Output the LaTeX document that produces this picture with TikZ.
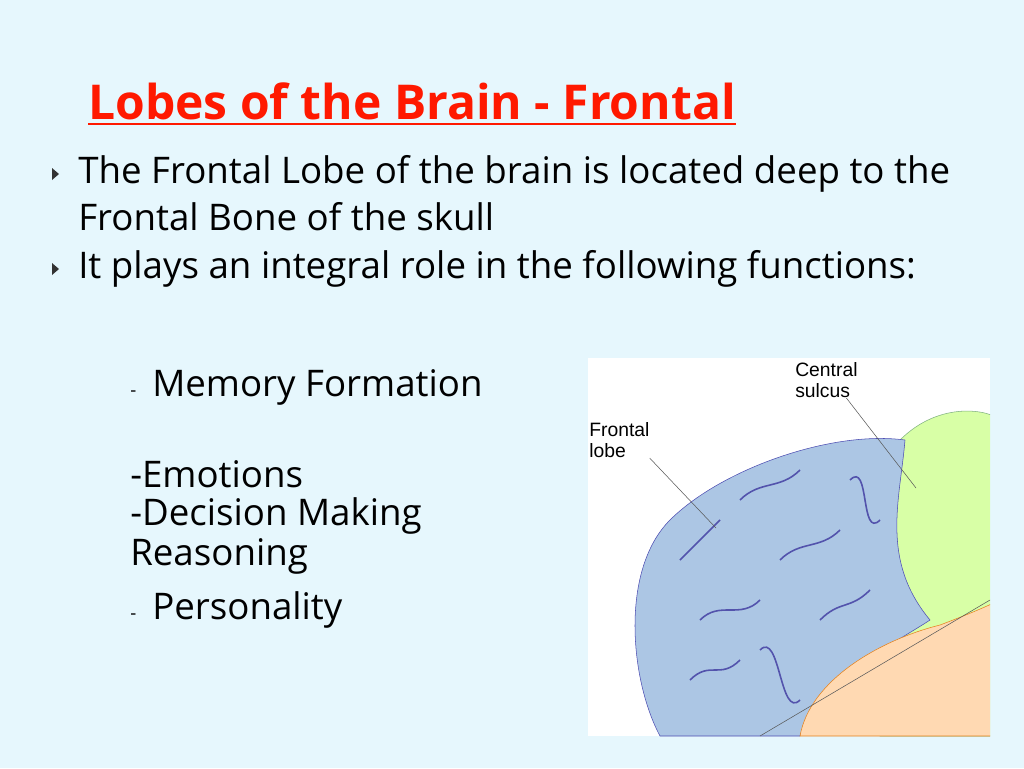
\documentclass[tikz,border=0pt]{standalone}
\usepackage{fontspec}
\setmainfont{Open Sans}
\newfontfamily\lbl{Liberation Sans}
\definecolor{brainblue}{RGB}{172,198,228}
\begin{document}
\begin{tikzpicture}[x=0.75pt,y=-0.75pt,
  body/.style={anchor=west,inner sep=0,font=\fontsize{27.5}{30}\selectfont},
  lab/.style={anchor=north west,inner sep=0,align=left,font=\lbl\fontsize{14.5}{16}\selectfont},
  bul/.style={fill=black!80}]
\fill[cyan!10!white] (0,0) rectangle (1024,768);
\useasboundingbox (0,0) rectangle (1024,768);
\node[anchor=west,inner sep=0,text=red!80!orange,font=\fontsize{36}{40}\selectfont\bfseries] (t) at (88,101) {Lobes of the Brain - Frontal};
\draw[red!80!orange,line width=1.5pt] (88,124) -- (t.east |- 0,124);
\fill[bul] (52,168)--(59,174)--(52,180)--cycle;
\fill[bul] (52,263)--(59,269)--(52,275)--cycle;
\node[body] (l1) at (78,174) {The Frontal Lobe of the brain is located deep to the};
\node[body] (l2) at (78,217) {Frontal Bone of the skull};
\node[body] (l3) at (78,269) {It plays an integral role in the following functions:};
\node[body] (m1) at (130,387) {{\fontsize{14}{14}\selectfont -}\hspace{12pt}Memory Formation};
\node[body] (m2) at (130,474) {-Emotions};
\node[body] (m3) at (130,516) {-Decision Making};
\node[body] (m4) at (130,556) {Reasoning};
\node[body] (m5) at (130,610) {{\fontsize{14}{14}\selectfont -}\hspace{12pt}Personalit{\rmfamily y}};
% image
\begin{scope}
\clip (588,358) rectangle (990,736);
\fill[white] (588,358) rectangle (990,736);
\fill[green!25!lime!35!white,draw=green!40!black!50] (900,440) .. controls (940,400) and (990,410) .. (1000,420) -- (1000,736) -- (880,736) .. controls (900,650) and (880,560) .. (900,440);
\fill[brainblue,draw=blue!40!gray] (905,440) .. controls (830,430) and (720,470) .. (670,520) .. controls (620,570) and (630,680) .. (660,736) -- (800,736) .. controls (820,680) and (900,640) .. (930,620) .. controls (880,560) and (900,500) .. (905,440);
\fill[orange!30!white,draw=orange!60!brown] (800,736) .. controls (810,680) and (880,640) .. (940,625) .. controls (980,610) and (1000,600) .. (1000,600) -- (1000,736) -- cycle;
\foreach \a/\b/\c/\d in {680/560/720/520,700/620/760/600,740/500/800/470,780/560/840/530,820/620/870/590,690/680/740/660,850/480/880/520,760/650/800/700}
  \draw[blue!35!gray,line width=1.2pt] (\a,\b) .. controls (\a+20,\b-20) and (\c-20,\d+20) .. (\c,\d);
\coordinate (cs) at (916,488);
\coordinate (fl) at (716,528);
\coordinate (tl) at (760,736);
\coordinate (tr) at (990,600);
\end{scope}
\node[lab] (ct) at (795,362) {Central\\sulcus};
\node[lab] (ft) at (589,422) {Frontal\\lobe};
\draw[gray!70!black] (ct.south) ++(20,0) coordinate(c0) (c0) -- (cs);
\draw[gray!70!black] (ft.south east) -- (fl);
\draw[gray!70!black] (tl) -- (tr);
\end{tikzpicture}
\end{document}
